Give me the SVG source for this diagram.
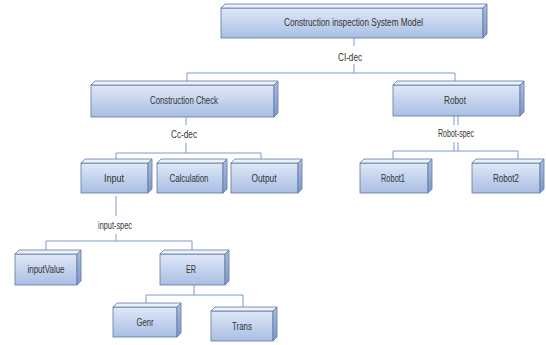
<svg xmlns="http://www.w3.org/2000/svg" width="546" height="345" viewBox="0 0 546 345">
<defs>
<linearGradient id="gf" x1="0" y1="0" x2="0" y2="1">
<stop offset="0" stop-color="#dfe8f6"/>
<stop offset="1" stop-color="#a9bee4"/>
</linearGradient>
<linearGradient id="gs" x1="0" y1="0" x2="0" y2="1">
<stop offset="0" stop-color="#aabde0"/>
<stop offset="1" stop-color="#7f99c9"/>
</linearGradient>
</defs>
<style>
.f{fill:url(#gf);stroke:#5d77a3;stroke-width:0.8}
.t{fill:#eef2fa;stroke:#5d77a3;stroke-width:0.8}
.s{fill:url(#gs);stroke:#5d77a3;stroke-width:0.8}
.l{fill:#333;font-family:"Liberation Sans",Arial,sans-serif;font-size:10px;text-anchor:middle}
.c{fill:none;stroke:#7c9bcf;stroke-width:1}
</style>
<rect width="546" height="345" fill="#fff"/>
<g id="connectors">
<path class="c" d="M354,38V46M354,64V73M187,73H455M187,73V81M455,73V81"/>
<path class="c" d="M186,117V125M186,143V153M116,153H261M116,153V159M261,153V159"/>
<path class="c" d="M454,116V125M458,116V125M454,142V151M458,142V151M393,151H518M393,151V159M518,151V159"/>
<path class="c" d="M116,196V216M116,234V241M46,241H192M46,241V250M192,241V250"/>
<path class="c" d="M194,285V295M146,295H243M146,295V303M243,295V307"/>
<text class="l" x="350" y="60.5" textLength="24" lengthAdjust="spacingAndGlyphs">CI-dec</text>
<text class="l" x="184" y="137.5" textLength="26" lengthAdjust="spacingAndGlyphs">Cc-dec</text>
<text class="l" x="456" y="137" textLength="36" lengthAdjust="spacingAndGlyphs">Robot-spec</text>
<text class="l" x="115" y="228.5" textLength="34" lengthAdjust="spacingAndGlyphs">input-spec</text>
</g>
<g id="n-model">
<rect class="f" x="221" y="8" width="262" height="30"/>
<path class="t" d="M221,8L225,4L487,4L483,8Z"/>
<path class="s" d="M483,8L487,4L487,34L483,38Z"/>
<text class="l" x="353.5" y="26" textLength="139" lengthAdjust="spacingAndGlyphs">Construction inspection System Model</text>
</g>
<g id="n-check">
<rect class="f" x="91" y="85" width="183" height="32"/>
<path class="t" d="M91,85L95,81L278,81L274,85Z"/>
<path class="s" d="M274,85L278,81L278,113L274,117Z"/>
<text class="l" x="184" y="104" textLength="68" lengthAdjust="spacingAndGlyphs">Construction Check</text>
</g>
<g id="n-robot">
<rect class="f" x="393" y="85" width="127" height="31"/>
<path class="t" d="M393,85L397,81L524,81L520,85Z"/>
<path class="s" d="M520,85L524,81L524,112L520,116Z"/>
<text class="l" x="455" y="104" textLength="22" lengthAdjust="spacingAndGlyphs">Robot</text>
</g>
<g id="n-input">
<rect class="f" x="81" y="163" width="67" height="30"/>
<path class="t" d="M81,163L85,159L152,159L148,163Z"/>
<path class="s" d="M148,163L152,159L152,189L148,193Z"/>
<text class="l" x="114" y="181.5" textLength="20" lengthAdjust="spacingAndGlyphs">Input</text>
</g>
<g id="n-calc">
<rect class="f" x="157" y="163" width="66" height="30"/>
<path class="t" d="M157,163L161,159L227,159L223,163Z"/>
<path class="s" d="M223,163L227,159L227,189L223,193Z"/>
<text class="l" x="189" y="181.5" textLength="39" lengthAdjust="spacingAndGlyphs">Calculation</text>
</g>
<g id="n-output">
<rect class="f" x="231" y="163" width="67" height="30"/>
<path class="t" d="M231,163L235,159L302,159L298,163Z"/>
<path class="s" d="M298,163L302,159L302,189L298,193Z"/>
<text class="l" x="264" y="181.5" textLength="25" lengthAdjust="spacingAndGlyphs">Output</text>
</g>
<g id="n-robot1">
<rect class="f" x="360" y="163" width="68" height="30"/>
<path class="t" d="M360,163L364,159L432,159L428,163Z"/>
<path class="s" d="M428,163L432,159L432,189L428,193Z"/>
<text class="l" x="393" y="181.5" textLength="24" lengthAdjust="spacingAndGlyphs">Robot1</text>
</g>
<g id="n-robot2">
<rect class="f" x="472" y="163" width="68" height="30"/>
<path class="t" d="M472,163L476,159L544,159L540,163Z"/>
<path class="s" d="M540,163L544,159L544,189L540,193Z"/>
<text class="l" x="506" y="181.5" textLength="26" lengthAdjust="spacingAndGlyphs">Robot2</text>
</g>
<g id="n-inputvalue">
<rect class="f" x="15" y="254" width="62" height="31"/>
<path class="t" d="M15,254L19,250L81,250L77,254Z"/>
<path class="s" d="M77,254L81,250L81,281L77,285Z"/>
<text class="l" x="46" y="273" textLength="37" lengthAdjust="spacingAndGlyphs">inputValue</text>
</g>
<g id="n-er">
<rect class="f" x="160" y="254" width="65" height="31"/>
<path class="t" d="M160,254L164,250L229,250L225,254Z"/>
<path class="s" d="M225,254L229,250L229,281L225,285Z"/>
<text class="l" x="191" y="273" textLength="10" lengthAdjust="spacingAndGlyphs">ER</text>
</g>
<g id="n-genr">
<rect class="f" x="113" y="307" width="64" height="30"/>
<path class="t" d="M113,307L117,303L181,303L177,307Z"/>
<path class="s" d="M177,307L181,303L181,333L177,337Z"/>
<text class="l" x="145" y="325.5" textLength="17" lengthAdjust="spacingAndGlyphs">Genr</text>
</g>
<g id="n-trans">
<rect class="f" x="211" y="311" width="62" height="30"/>
<path class="t" d="M211,311L215,307L277,307L273,311Z"/>
<path class="s" d="M273,311L277,307L277,337L273,341Z"/>
<text class="l" x="242" y="329.5" textLength="20" lengthAdjust="spacingAndGlyphs">Trans</text>
</g>
</svg>
